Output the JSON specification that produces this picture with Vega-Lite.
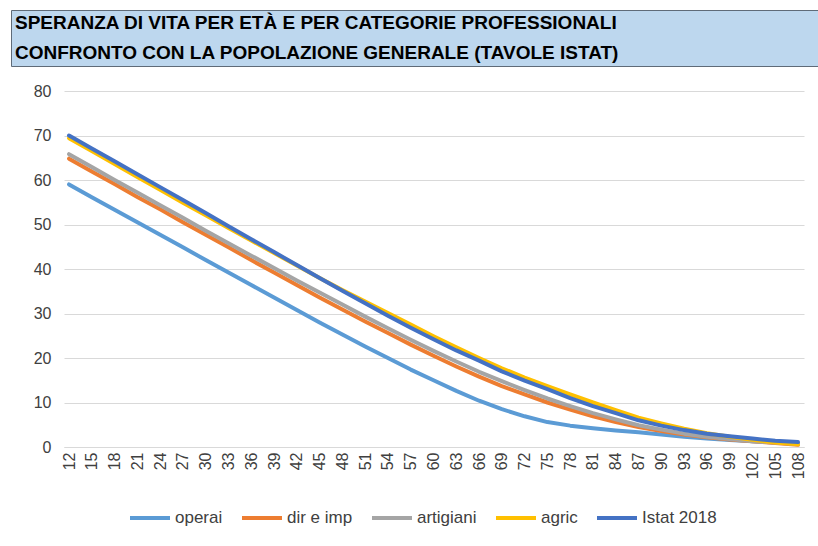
{
  "$schema": "https://vega.github.io/schema/vega-lite/v6.json",
  "padding": {"left": 10, "top": 9, "right": 0, "bottom": 0},
  "background": "white",
  "spacing": 16,
  "config": {
    "font": "Liberation Sans",
    "axis": {"labelFont": "Liberation Sans", "titleFont": "Liberation Sans"},
    "legend": {"labelFont": "Liberation Sans"}
  },
  "vconcat": [
    {
      "width": 808,
      "height": 56,
      "view": {"fill": "#BDD7EE", "stroke": "#5F6B78", "strokeWidth": 1},
      "data": {"values": [
        {"riga": 2, "testo": "SPERANZA DI VITA PER ETÀ E PER CATEGORIE PROFESSIONALI"},
        {"riga": 1, "testo": "CONFRONTO CON LA POPOLAZIONE GENERALE (TAVOLE ISTAT)"}
      ]},
      "mark": {"type": "text", "align": "left", "baseline": "alphabetic", "font": "Liberation Sans", "fontWeight": "bold", "fontSize": 19, "color": "#000000"},
      "encoding": {
        "x": {"value": 4},
        "y": {"field": "riga", "type": "quantitative", "scale": {"domain": [0.7667, 2.6333], "nice": false, "zero": false}, "axis": null},
        "text": {"field": "testo", "type": "nominal"}
      }
    },
    {
      "spacing": 21,
      "hconcat": [
        {
          "width": 1,
          "height": 1,
          "view": {"stroke": null},
          "data": {"values": []},
          "mark": "point"
        },
        {
          "width": 740,
          "height": 356,
          "view": {"stroke": null},
          "data": {"values": [
            {"eta": 12, "operai": 59.0, "dir e imp": 64.8, "artigiani": 65.8, "agric": 69.4, "Istat 2018": 70.0},
            {"eta": 15, "operai": 56.1, "dir e imp": 61.9, "artigiani": 62.9, "agric": 66.5, "Istat 2018": 67.1},
            {"eta": 18, "operai": 53.3, "dir e imp": 59.1, "artigiani": 60.0, "agric": 63.6, "Istat 2018": 64.2},
            {"eta": 21, "operai": 50.5, "dir e imp": 56.2, "artigiani": 57.2, "agric": 60.7, "Istat 2018": 61.3},
            {"eta": 24, "operai": 47.7, "dir e imp": 53.4, "artigiani": 54.3, "agric": 57.8, "Istat 2018": 58.4},
            {"eta": 27, "operai": 44.9, "dir e imp": 50.5, "artigiani": 51.5, "agric": 54.9, "Istat 2018": 55.5},
            {"eta": 30, "operai": 42.0, "dir e imp": 47.7, "artigiani": 48.6, "agric": 52.1, "Istat 2018": 52.6},
            {"eta": 33, "operai": 39.2, "dir e imp": 44.9, "artigiani": 45.8, "agric": 49.2, "Istat 2018": 49.6},
            {"eta": 36, "operai": 36.4, "dir e imp": 42.0, "artigiani": 43.0, "agric": 46.4, "Istat 2018": 46.7},
            {"eta": 39, "operai": 33.6, "dir e imp": 39.2, "artigiani": 40.2, "agric": 43.6, "Istat 2018": 43.8},
            {"eta": 42, "operai": 30.8, "dir e imp": 36.4, "artigiani": 37.4, "agric": 40.8, "Istat 2018": 40.9},
            {"eta": 45, "operai": 28.0, "dir e imp": 33.6, "artigiani": 34.7, "agric": 38.0, "Istat 2018": 38.0},
            {"eta": 48, "operai": 25.3, "dir e imp": 30.9, "artigiani": 32.0, "agric": 35.3, "Istat 2018": 35.1},
            {"eta": 51, "operai": 22.6, "dir e imp": 28.2, "artigiani": 29.3, "agric": 32.7, "Istat 2018": 32.3},
            {"eta": 54, "operai": 20.0, "dir e imp": 25.6, "artigiani": 26.7, "agric": 30.1, "Istat 2018": 29.5},
            {"eta": 57, "operai": 17.4, "dir e imp": 23.0, "artigiani": 24.1, "agric": 27.5, "Istat 2018": 26.8},
            {"eta": 60, "operai": 15.0, "dir e imp": 20.5, "artigiani": 21.6, "agric": 24.9, "Istat 2018": 24.2},
            {"eta": 63, "operai": 12.6, "dir e imp": 18.1, "artigiani": 19.2, "agric": 22.4, "Istat 2018": 21.7},
            {"eta": 66, "operai": 10.4, "dir e imp": 15.8, "artigiani": 16.9, "agric": 20.0, "Istat 2018": 19.4},
            {"eta": 69, "operai": 8.5, "dir e imp": 13.7, "artigiani": 14.8, "agric": 17.7, "Istat 2018": 17.0},
            {"eta": 72, "operai": 6.9, "dir e imp": 11.8, "artigiani": 12.8, "agric": 15.6, "Istat 2018": 14.9},
            {"eta": 75, "operai": 5.6, "dir e imp": 10.0, "artigiani": 10.9, "agric": 13.7, "Istat 2018": 13.0},
            {"eta": 78, "operai": 4.8, "dir e imp": 8.4, "artigiani": 9.2, "agric": 11.8, "Istat 2018": 11.0},
            {"eta": 81, "operai": 4.2, "dir e imp": 6.9, "artigiani": 7.6, "agric": 10.0, "Istat 2018": 9.2},
            {"eta": 84, "operai": 3.7, "dir e imp": 5.6, "artigiani": 6.2, "agric": 8.3, "Istat 2018": 7.6},
            {"eta": 87, "operai": 3.3, "dir e imp": 4.5, "artigiani": 4.9, "agric": 6.6, "Istat 2018": 6.0},
            {"eta": 90, "operai": 2.8, "dir e imp": 3.6, "artigiani": 3.9, "agric": 5.3, "Istat 2018": 4.8},
            {"eta": 93, "operai": 2.3, "dir e imp": 2.8, "artigiani": 3.0, "agric": 4.1, "Istat 2018": 3.8},
            {"eta": 96, "operai": 1.9, "dir e imp": 2.2, "artigiani": 2.3, "agric": 3.1, "Istat 2018": 3.0},
            {"eta": 99, "operai": 1.6, "dir e imp": 1.7, "artigiani": 1.8, "agric": 2.3, "Istat 2018": 2.4},
            {"eta": 102, "operai": 1.3, "dir e imp": 1.3, "artigiani": 1.3, "agric": 1.6, "Istat 2018": 1.9},
            {"eta": 105, "operai": 1.0, "dir e imp": 0.9, "artigiani": 1.0, "agric": 1.0, "Istat 2018": 1.4},
            {"eta": 108, "operai": 0.8, "dir e imp": 0.5, "artigiani": 0.7, "agric": 0.6, "Istat 2018": 1.1}
          ]},
          "transform": [
            {"fold": ["operai", "dir e imp", "artigiani", "agric", "Istat 2018"], "as": ["serie", "valore"]}
          ],
          "mark": {"type": "line", "strokeWidth": 4, "strokeJoin": "round", "strokeCap": "round"},
          "encoding": {
            "x": {
              "field": "eta", "type": "quantitative",
              "scale": {"domain": [11.34, 108.79], "nice": false, "zero": false},
              "axis": {
                "values": [12, 15, 18, 21, 24, 27, 30, 33, 36, 39, 42, 45, 48, 51, 54, 57, 60, 63, 66, 69, 72, 75, 78, 81, 84, 87, 90, 93, 96, 99, 102, 105, 108],
                "labelAngle": -90, "grid": false, "ticks": false, "tickSize": 0,
                "domain": true, "domainColor": "#D9D9D9", "domainWidth": 1,
                "labelPadding": 5, "title": null, "labelFontSize": 16, "labelColor": "#404040",
                "labelFlush": false, "labelOverlap": false
              }
            },
            "y": {
              "field": "valore", "type": "quantitative",
              "scale": {"domain": [0, 80], "nice": false},
              "axis": {
                "values": [0, 10, 20, 30, 40, 50, 60, 70, 80],
                "grid": true, "gridColor": "#D9D9D9", "gridWidth": 1,
                "domain": false, "ticks": false, "tickSize": 0,
                "labelPadding": 13, "labelFontSize": 16, "labelColor": "#404040",
                "title": null
              }
            },
            "color": {
              "field": "serie", "type": "nominal",
              "scale": {
                "domain": ["operai", "dir e imp", "artigiani", "agric", "Istat 2018"],
                "range": ["#5B9BD5", "#ED7D31", "#A5A5A5", "#FFC000", "#4472C4"]
              },
              "legend": {
                "orient": "none", "legendX": 117, "legendY": 486, "direction": "horizontal", "title": null,
                "symbolType": "stroke", "symbolSize": 1600, "symbolStrokeWidth": 4,
                "labelFontSize": 17, "labelColor": "#404040", "columnPadding": 11, "labelOffset": 3
              }
            }
          }
        }
      ]
    }
  ]
}
